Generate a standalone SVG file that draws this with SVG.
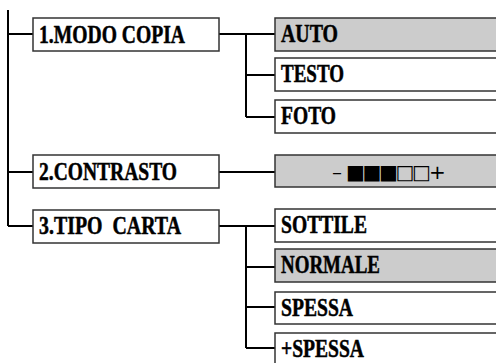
<svg xmlns="http://www.w3.org/2000/svg" width="496" height="363" viewBox="0 0 496 363">
<style>
.box{fill:#fff;stroke:#333;stroke-width:1.5}
.sel{fill:#cccccc;stroke:#333;stroke-width:1.5}
.lbl{font-family:"Liberation Serif","Times New Roman",serif;font-weight:bold;font-size:25px;fill:#000;stroke:#000;stroke-width:0.5}
.bar{font-family:"DejaVu Sans",sans-serif;font-size:20px;fill:#000}
.con{fill:none;stroke:#000;stroke-width:2}
</style>
<rect width="496" height="363" fill="#fff"/>
<g id="connectors">
<path class="con" d="M8 10V226M8 34H33M8 172H33M8 226H33"/>
<path class="con" d="M219 34H275M246 34V117M246 75H275M246 117H275"/>
<path class="con" d="M219 172H275"/>
<path class="con" d="M219 226H275M246 226V348M246 267H275M246 307H275M246 348H275"/>
</g>
<g id="modo-copia"><rect class="box" x="33" y="18" width="186" height="33"/><text class="lbl" x="39" y="43" textLength="146" lengthAdjust="spacingAndGlyphs">1.MODO COPIA</text></g>
<g id="contrasto"><rect class="box" x="33" y="155" width="186" height="33"/><text class="lbl" x="39" y="180" textLength="138" lengthAdjust="spacingAndGlyphs">2.CONTRASTO</text></g>
<g id="tipo-carta"><rect class="box" x="33" y="210" width="186" height="33"/><text class="lbl" x="39" y="234" textLength="142" lengthAdjust="spacingAndGlyphs" xml:space="preserve">3.TIPO  CARTA</text></g>
<g id="auto"><rect class="sel" x="275" y="18" width="240" height="33"/><text class="lbl" x="281" y="42" textLength="57" lengthAdjust="spacingAndGlyphs">AUTO</text></g>
<g id="testo"><rect class="box" x="275" y="58" width="240" height="33"/><text class="lbl" x="281" y="82" textLength="63" lengthAdjust="spacingAndGlyphs">TESTO</text></g>
<g id="foto"><rect class="box" x="275" y="100" width="240" height="33"/><text class="lbl" x="281" y="124" textLength="55" lengthAdjust="spacingAndGlyphs">FOTO</text></g>
<g id="contrasto-bar"><rect class="sel" x="275" y="155" width="240" height="32"/><text class="bar" x="332 346 362.5 379 395.5 412 429" y="179">–■■■□□+</text></g>
<g id="sottile"><rect class="box" x="275" y="209" width="240" height="33"/><text class="lbl" x="281" y="233" textLength="86" lengthAdjust="spacingAndGlyphs">SOTTILE</text></g>
<g id="normale"><rect class="sel" x="275" y="249" width="240" height="33"/><text class="lbl" x="281" y="273" textLength="99" lengthAdjust="spacingAndGlyphs">NORMALE</text></g>
<g id="spessa"><rect class="box" x="275" y="292" width="240" height="32"/><text class="lbl" x="281" y="316" textLength="72" lengthAdjust="spacingAndGlyphs">SPESSA</text></g>
<g id="piu-spessa"><rect class="box" x="275" y="333" width="240" height="33"/><text class="lbl" x="281" y="357" textLength="83" lengthAdjust="spacingAndGlyphs">+SPESSA</text></g>
</svg>
